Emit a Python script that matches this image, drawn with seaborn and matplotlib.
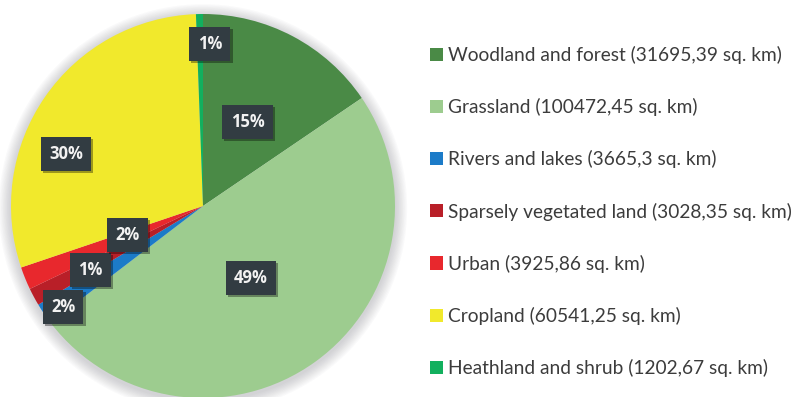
import matplotlib
matplotlib.use("Agg")
import matplotlib.pyplot as plt
import matplotlib.patheffects as pe
from matplotlib.patches import Circle
import seaborn as sns

# Land cover areas
categories = ["Woodland and forest", "Grassland", "Rivers and lakes",
              "Sparsely vegetated land", "Urban", "Cropland",
              "Heathland and shrub"]
areas_km2 = [31695.39, 100472.45, 3665.3, 3028.35, 3925.86, 60541.25, 1202.67]
area_text = ["31695,39", "100472,45", "3665,3", "3028,35", "3925,86",
             "60541,25", "1202,67"]
colors = ["#4a8a46", "#9dcc8f", "#1c7bc8", "#b91f28", "#e8282d",
          "#f1e92c", "#12b05e"]

# Data-label anchor points, in pie radius units
label_pos = [(0.232, 0.438), (0.250, -0.375), (-0.729, -0.526),
             (-0.586, -0.333), (-0.393, -0.151), (-0.714, 0.271),
             (0.036, 0.844)]

sns.set_theme(style="white")
plt.rcParams["font.family"] = ["Lato", "DejaVu Sans"]

W, H, DPI = 795, 397, 100
CX, CY, R = 203, 206, 192  # pie centre and radius in pixels

fig = plt.figure(figsize=(W / DPI, H / DPI), dpi=DPI)
fig.patch.set_facecolor("white")
ax = fig.add_axes([0, 0, 1, 1])

# soft halo behind the pie
for k in range(1, 10):
    ax.add_patch(Circle((0.0, -0.012), 1.0 + 0.007 * k, facecolor="#6e6e78",
                        edgecolor="none", alpha=0.035, zorder=0))

wedges, _ = ax.pie(areas_km2, colors=colors, startangle=90, counterclock=False,
                   radius=1.0, center=(0, 0),
                   wedgeprops=dict(linewidth=0, zorder=2))

total = sum(areas_km2)
for v, (x, y) in zip(areas_km2, label_pos):
    t = ax.text(x, y, f"{round(100 * v / total)}%", ha="center", va="center",
                fontsize=12, fontweight="bold", color="#f2f2f2",
                family=["Open Sans", "DejaVu Sans"], zorder=5,
                bbox=dict(boxstyle="square,pad=0.5", facecolor="#323c42",
                          edgecolor="none"))
    t.get_bbox_patch().set_path_effects([
        pe.SimplePatchShadow(offset=(1.5, -1.5), shadow_rgbFace="#000000",
                             alpha=0.35),
        pe.Normal()])

ax.set_xlim(-CX / R, (W - CX) / R)
ax.set_ylim(-(H - CY) / R, CY / R)
ax.set_aspect("auto")
ax.axis("off")

labels = [f"{c} ({a} sq. km)" for c, a in zip(categories, area_text)]
leg = ax.legend(wedges, labels, loc="center left",
                bbox_to_anchor=(430 / W, 1 - 211.5 / H),
                bbox_transform=fig.transFigure, frameon=False,
                fontsize=13.8, handlelength=0.68, handleheight=0.68,
                handletextpad=0.25, labelspacing=1.78, borderpad=0,
                borderaxespad=0)
for txt in leg.get_texts():
    txt.set_color("#3c3c3c")

fig.savefig("out.png", dpi=DPI, facecolor="white")
